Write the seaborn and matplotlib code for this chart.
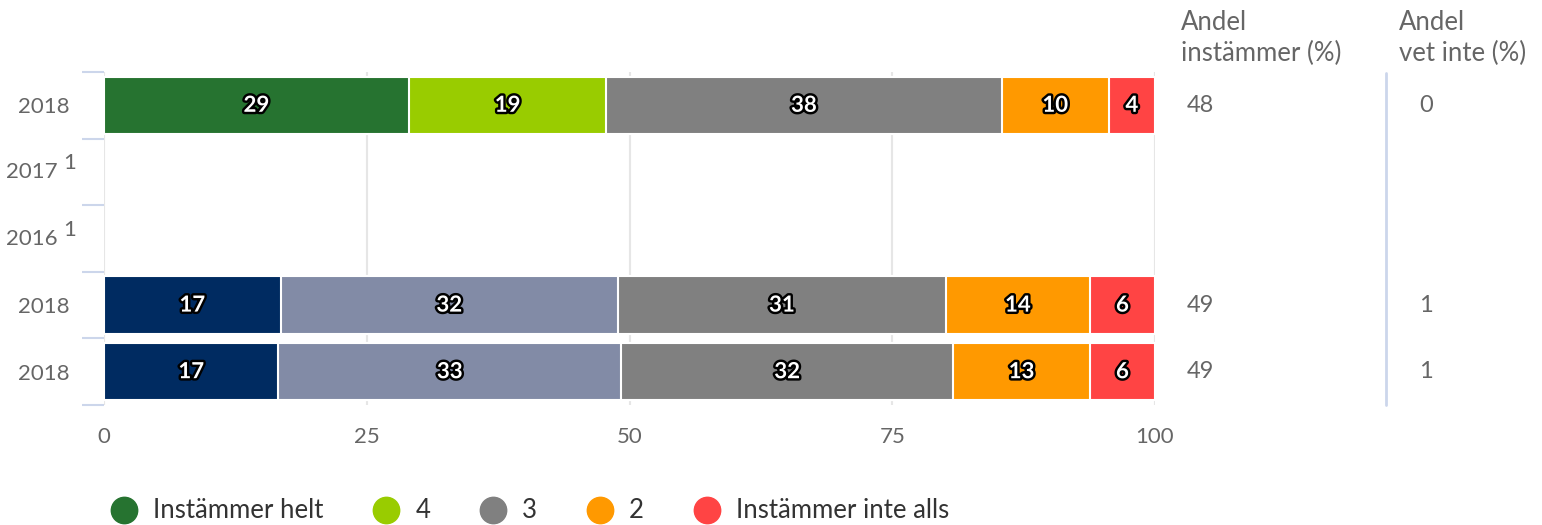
import matplotlib
matplotlib.use("Agg")
import matplotlib.pyplot as plt
import matplotlib.patheffects as pe
from matplotlib.lines import Line2D
import seaborn as sns
import pandas as pd
import numpy as np

# ---------------- data ----------------
row_ids = ["r0", "r1", "r2", "r3", "r4"]
row_labels = ["2018", "2017", "2016", "2018", "2018"]
row_sup = ["", "1", "1", "", ""]
segment_names = ["Instämmer helt", "4", "3", "2", "Instämmer inte alls"]
# segment values per row (empty rows have no data)
row0_values = [29.0, 18.8, 37.6, 10.2, 4.4]
row3_values = [16.8, 32.1, 31.2, 13.7, 6.2]
row4_values = [16.6, 32.6, 31.6, 13.0, 6.2]
andel_instammer = ["48", "", "", "49", "49"]
andel_vet_inte = ["0", "", "", "1", "1"]
x_ticks = [0, 25, 50, 75, 100]

colors_a = ["#267330", "#99cc00", "#808080", "#ff9900", "#ff4444"]
colors_b = ["#002b61", "#828ba6", "#808080", "#ff9900", "#ff4444"]

rows_data = {"r0": (row0_values, colors_a), "r3": (row3_values, colors_b), "r4": (row4_values, colors_b)}

recs = []
for rid, (vals, cols) in rows_data.items():
    cum = np.cumsum(vals)
    for k, v in enumerate(vals):
        recs.append(dict(row=rid, seg=k, value=v, cum=cum[k], start=cum[k] - v, color=cols[k]))
df = pd.DataFrame(recs)

# ---------------- figure ----------------
sns.set_theme(style="white")
plt.rcParams["font.family"] = ["Lato", "DejaVu Sans"]

W, H = 1542, 525
fig = plt.figure(figsize=(W / 100, H / 100), dpi=100)
ax = fig.add_axes([104 / W, 1 - 405 / H, (1155 - 104) / W, (405 - 72) / H])

for k in reversed(range(len(segment_names))):
    sub = df[df.seg == k]
    pal = {r: c for r, c in zip(sub.row, sub.color)}
    sns.barplot(data=sub, x="cum", y="row", order=row_ids, hue="row", hue_order=list(pal.keys()),
                palette=pal, dodge=False, width=0.86, legend=False, ax=ax, saturation=1,
                edgecolor="white", linewidth=1.5, zorder=3)

ax.set_xlim(0, 100)
ax.set_ylim(4.5, -0.5)
ax.set_xlabel("")
ax.set_ylabel("")

# grid
for xv in x_ticks:
    ax.axvline(xv, color="#e6e6e6", lw=1.5, zorder=1)

for s in ax.spines.values():
    s.set_visible(False)

ax.set_xticks(x_ticks)
ax.set_xticklabels([str(v) for v in x_ticks])
ax.tick_params(axis="x", length=0, pad=16, labelsize=16, labelcolor="#666666")

ax.set_yticks(range(5))
ax.set_yticklabels([lab if not sup else "" for lab, sup in zip(row_labels, row_sup)])
ax.tick_params(axis="y", which="major", length=0, pad=24.5, labelsize=16, labelcolor="#666666")
ax.set_yticks(np.arange(-0.5, 5, 1), minor=True)
ax.tick_params(axis="y", which="minor", length=16, width=1.5, color="#ccd6eb", left=True)

# labels with superscripts
for i, (lab, s) in enumerate(zip(row_labels, row_sup)):
    if s:
        ax.annotate(lab, xy=(0, i), xycoords=("axes fraction", "data"), xytext=(-46, 0),
                    textcoords="offset pixels", ha="right", va="center", fontsize=16, color="#666666")
        ax.annotate(s, xy=(0, i), xycoords=("axes fraction", "data"), xytext=(-41, 3),
                    textcoords="offset pixels", ha="left", va="baseline", fontsize=16, color="#666666")

# bar value labels
for _, r in df.iterrows():
    yi = row_ids.index(r.row)
    ax.text(r.start + r.value / 2, yi, f"{int(round(r.value))}", ha="center", va="center",
            fontsize=16, fontweight="bold", color="white", zorder=5,
            path_effects=[pe.withStroke(linewidth=3.5, foreground="black")])

# right-hand columns
for i in range(5):
    ax.annotate(andel_instammer[i], xy=(1, i), xycoords=("axes fraction", "data"), xytext=(32, 0),
                textcoords="offset pixels", ha="left", va="center", fontsize=17, color="#666666")
    ax.annotate(andel_vet_inte[i], xy=(1, i), xycoords=("axes fraction", "data"), xytext=(264, 0),
                textcoords="offset pixels", ha="left", va="center", fontsize=17, color="#666666")

fig.text(1181 / W, 1 - 38 / H, "Andel\ninstämmer (%)", ha="left", va="center", fontsize=18.5,
         color="#666666", linespacing=1.3)
fig.text(1399 / W, 1 - 38 / H, "Andel\nvet inte (%)", ha="left", va="center", fontsize=18.5,
         color="#666666", linespacing=1.3)

# separator line
fig.add_artist(Line2D([1386 / W, 1386 / W], [1 - 73 / H, 1 - 405 / H], color="#ccd6eb", lw=2))

# legend
handles = [Line2D([], [], marker="o", linestyle="", markersize=19, markerfacecolor=c,
                  markeredgecolor=c) for c in colors_a]
leg = fig.legend(handles, segment_names, loc="center left", bbox_to_anchor=(111 / W, 1 - 511 / H),
                 ncol=5, frameon=False, fontsize=18.5, handletextpad=0.63, columnspacing=1.95,
                 borderaxespad=0, borderpad=0, handlelength=1.0)
for t in leg.get_texts():
    t.set_color("#333333")

fig.savefig("out.png", dpi=100, facecolor="white")
